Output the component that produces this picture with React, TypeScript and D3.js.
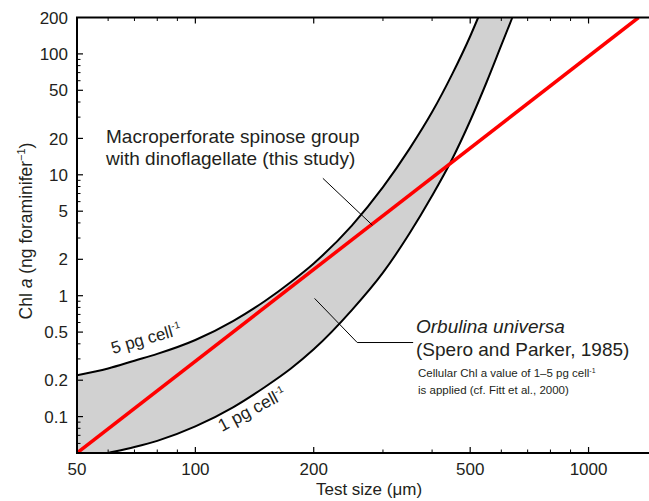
import React from 'react';
import * as d3 from 'd3';

// 5 pg cell-1 curve (Orbulina universa, upper edge of band)
const upperSize = [50, 60, 70, 80, 100, 125, 150, 175, 200, 250, 300, 350, 400, 450, 500, 524];
const upperChl = [0.22, 0.25, 0.29, 0.33, 0.43, 0.62, 0.9, 1.3, 1.85, 3.8, 7.9, 16.3, 33, 68, 140, 200];

// 1 pg cell-1 curve (lower edge of band)
const lowerSize = [50, 60, 70, 80, 100, 125, 150, 175, 200, 250, 300, 350, 400, 450, 500, 550, 600, 640];
const lowerChl = [0.044, 0.05, 0.056, 0.063, 0.083, 0.12, 0.175, 0.25, 0.36, 0.76, 1.55, 3.25, 6.7, 13.5, 28, 58, 118, 200];

// macroperforate spinose group with dinoflagellate (this study)
const studySize = [50, 1340];
const studyChl = [0.05, 200];

const xTicks = [50, 100, 200, 500, 1000];
const yTicks = [0.1, 0.2, 0.5, 1, 2, 5, 10, 20, 50, 100, 200];

const W = 649;
const H = 501;
const left = 77;
const right = 652; // right frame falls just outside the window
const top = 17.5;
const bottom = 453;

const font = '"Liberation Sans", Arial, sans-serif';
const ink = '#231f20';

const App = () => {
  const x = d3.scaleLog().domain([50, 1450]).range([left, right]);
  const y = d3.scaleLog().domain([0.05, 200]).range([bottom, top]);

  const upper = upperSize.map((s, i) => [s, upperChl[i]]);
  const lower = lowerSize.map((s, i) => [s, lowerChl[i]]);

  const line = d3
    .line<number[]>()
    .x((d) => x(d[0]))
    .y((d) => y(d[1]))
    .curve(d3.curveMonotoneX);

  // band: upper curve forward, then lower curve backward
  const lowerBack = (line(lower.slice().reverse()) || '').replace(/^M/, 'L');
  const band = (line(upper) || '') + lowerBack + 'Z';

  const minorX = x.ticks().filter((t) => !xTicks.includes(t) && t > 50);
  const minorY = y.ticks().filter((t) => !yTicks.includes(t) && t > 0.05);

  const red = d3
    .line<number[]>()
    .x((d) => x(d[0]))
    .y((d) => y(d[1]))(studySize.map((s, i) => [s, studyChl[i]]));

  return (
    <svg
      width={W}
      height={H}
      style={{ position: 'absolute', left: 0, top: 0, background: '#fff' }}
      fontFamily={font}
    >
      <defs>
        <clipPath id="plot">
          <rect x={left} y={top} width={right - left} height={bottom - top} />
        </clipPath>
      </defs>

      <g clipPath="url(#plot)">
        <path d={band} fill="#d1d1d1" stroke="none" />
        <path d={line(upper) || ''} fill="none" stroke="#000" strokeWidth={2} />
        <path d={line(lower) || ''} fill="none" stroke="#000" strokeWidth={2} />
        <path d={red || ''} fill="none" stroke="#ff0000" strokeWidth={3.5} />
      </g>

      {/* frame */}
      <rect x={left} y={top} width={right - left} height={bottom - top} fill="none" stroke="#000" strokeWidth={2} />

      {/* x ticks, bottom and top */}
      {xTicks.filter((t) => t > 50).map((t) => (
        <g key={'xt' + t}>
          <line x1={x(t)} x2={x(t)} y1={bottom} y2={bottom - 6} stroke="#000" strokeWidth={1.2} />
          <line x1={x(t)} x2={x(t)} y1={top} y2={top + 6} stroke="#000" strokeWidth={1.2} />
        </g>
      ))}
      {minorX.map((t) => (
        <g key={'xm' + t}>
          <line x1={x(t)} x2={x(t)} y1={bottom} y2={bottom - 3.5} stroke="#000" strokeWidth={1} />
          <line x1={x(t)} x2={x(t)} y1={top} y2={top + 3.5} stroke="#000" strokeWidth={1} />
        </g>
      ))}
      {xTicks.map((t) => (
        <text key={'xl' + t} x={x(t)} y={475} textAnchor="middle" fontSize={17} fill={ink}>
          {t}
        </text>
      ))}

      {/* y ticks */}
      {yTicks.filter((t) => t < 200).map((t) => (
        <line key={'yt' + t} x1={left} x2={left + 6} y1={y(t)} y2={y(t)} stroke="#000" strokeWidth={1.2} />
      ))}
      {minorY.map((t) => (
        <line key={'ym' + t} x1={left} x2={left + 3.5} y1={y(t)} y2={y(t)} stroke="#000" strokeWidth={1} />
      ))}
      {yTicks.map((t) => (
        <text key={'yl' + t} x={68} y={y(t)} dy="0.36em" textAnchor="end" fontSize={17} fill={ink}>
          {t}
        </text>
      ))}

      {/* axis titles */}
      <text x={369} y={495} textAnchor="middle" fontSize={17} fill={ink}>
        Test size (μm)
      </text>
      <text transform="translate(32,231) rotate(-90)" textAnchor="middle" fontSize={17.5} fill={ink}>
        Chl <tspan fontStyle="italic">a</tspan> (ng foraminifer
        <tspan fontSize={11} dy={-7}>−1</tspan>
        <tspan dy={7}>)</tspan>
      </text>

      {/* curve labels */}
      <text transform="translate(113,354) rotate(-16)" fontSize={17} fill={ink}>
        5 pg cell<tspan fontSize={10} dy={-7}>-1</tspan>
      </text>
      <text transform="translate(222,432) rotate(-28)" fontSize={17.5} fill={ink}>
        1 pg cell<tspan fontSize={10} dy={-7}>-1</tspan>
      </text>

      {/* annotations */}
      <text x={106} y={143} fontSize={19} fill={ink}>
        Macroperforate spinose group
      </text>
      <text x={106} y={165} fontSize={19} fill={ink}>
        with dinoflagellate (this study)
      </text>
      <line x1={x(211)} y1={y(9.35)} x2={x(282)} y2={y(3.83)} stroke="#000" strokeWidth={1} />

      <polyline
        points={`${x(201)},${y(0.95)} ${x(258)},${y(0.41)} ${x(358)},${y(0.41)}`}
        fill="none"
        stroke="#000"
        strokeWidth={1}
      />
      <text x={416} y={333} fontSize={19} fontStyle="italic" fill={ink}>
        Orbulina universa
      </text>
      <text x={416} y={356} fontSize={19} fill={ink}>
        (Spero and Parker, 1985)
      </text>
      <text x={418} y={377} fontSize={11.5} fill={ink}>
        Cellular Chl a value of 1–5 pg cell<tspan fontSize={7} dy={-4}>-1</tspan>
      </text>
      <text x={418} y={394} fontSize={11.5} fill={ink}>
        is applied (cf. Fitt et al., 2000)
      </text>
    </svg>
  );
};

export default App;
